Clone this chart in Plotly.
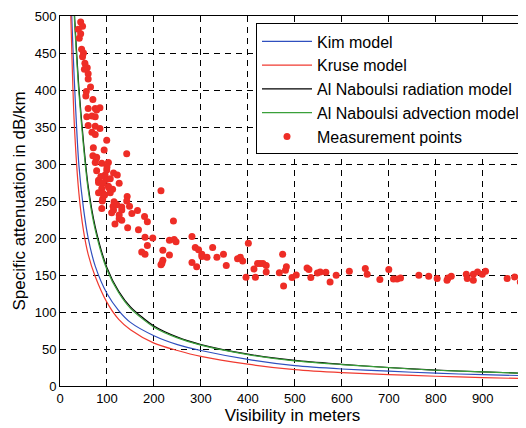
import plotly.graph_objects as go

# Visibility grid (m) used for reading the model curves off the picture
vis_kim = [22, 25, 30, 40, 50, 60, 75, 100, 125, 150, 200, 250, 300, 400, 500, 600, 700, 800, 900, 990]
att_kim = [570, 500, 420, 300, 240, 200, 162, 125, 102, 86, 68, 56, 48, 36, 27.5, 23, 20, 17.3, 15.3, 14]

vis_kruse = [20, 23, 30, 40, 50, 60, 75, 100, 125, 150, 200, 250, 300, 400, 500, 600, 700, 800, 900, 990]
att_kruse = [570, 500, 360, 262, 210, 178, 148, 113, 90, 76, 58, 48, 40, 29.5, 22, 18, 15.5, 13.2, 11.4, 10]

vis_nab = [29, 31, 35, 40, 50, 60, 75, 100, 125, 150, 200, 250, 300, 400, 500, 600, 700, 800, 900, 990]
att_rad = [535, 500, 455, 405, 330, 270, 215, 160, 128, 107, 81, 66, 56, 43, 34.5, 29.3, 25, 21.5, 19.2, 17.2]
att_adv = [525, 492, 448, 398, 324, 265, 211, 157, 126, 105, 79.5, 65, 55.2, 42.5, 34, 29, 24.8, 21.3, 19, 17]

# Measurement points (visibility m, attenuation dB/km)
meas_v = [44, 39, 48, 44, 50, 48, 53, 58, 60, 60, 65, 55, 70, 60, 75, 85, 78, 57, 68, 75,
          60, 75, 85, 68, 75, 99.5, 71, 94, 142, 70, 78, 41, 46, 52, 56,
          77, 75, 89, 103, 78, 99.5, 114, 122, 96, 82, 98, 107, 82, 91, 126,
          103, 89, 112, 82, 92, 107, 143, 215, 91, 142, 115, 148, 131.5, 114, 89,
          131.5, 165, 110, 153, 126, 180, 126, 131.5, 186, 241.5, 117, 144, 167, 181, 197.5,
          233, 243, 247, 281, 186, 219, 288, 295, 325, 174, 181, 233, 302, 302, 313,
          334, 348, 219, 217, 215, 281, 291, 354, 90, 113, 121, 100, 87, 104, 95,
          378, 384, 389, 401, 396, 413, 416, 420.5, 426, 432, 439, 439, 467, 474, 476,
          480, 482, 494, 503, 526, 530, 534, 548, 554, 566, 575, 588, 616,
          650, 654, 681, 700, 710, 717.6, 725, 764, 785, 803, 824, 826, 833,
          865, 867, 880, 880, 889, 899, 906, 952, 968, 980]
meas_a = [492, 482, 486, 476, 450, 445, 436, 430, 422, 415, 404, 392, 387, 375, 375, 376, 373, 364, 365, 364,
          352, 351, 348, 343, 340, 332, 322, 319, 314, 311, 309, 470, 455, 428, 398,
          307, 302, 301, 302, 291, 292, 288, 285, 285, 278, 279, 280, 275, 274, 274,
          270, 267, 266, 261, 260, 261, 256, 264, 253, 250, 249, 243, 242, 238, 240,
          238, 237, 234, 233, 231, 229, 226, 224, 222, 223, 219, 214, 211, 201, 200,
          197, 198, 195, 202, 190, 183.5, 187, 184, 187, 181, 178, 177, 178, 175, 174,
          174, 178, 170, 166, 164, 167, 161, 163, 250, 243, 245, 296, 283, 268, 258,
          172, 174, 169, 193, 147, 158, 147, 165.5, 165.5, 165.5, 163, 154, 153, 178, 135,
          156.5, 161, 146.6, 150, 159.6, 157.4, 146.6, 152.8, 154, 153.8, 140.7, 149.7, 155,
          158.8, 151, 143.9, 157.4, 144.7, 144.7, 146, 149.7, 148.4, 145.2, 143, 146, 148.4,
          151, 145.2, 151, 143, 154, 151, 155, 145.2, 147.4, 140.7]

x_ticks = [0, 100, 200, 300, 400, 500, 600, 700, 800, 900]
y_ticks = [0, 50, 100, 150, 200, 250, 300, 350, 400, 450, 500]

FONT = "Liberation Sans, Arial, sans-serif"

fig = go.Figure()
fig.add_trace(go.Scatter(x=vis_kim, y=att_kim, mode="lines", name="Kim model",
                         line=dict(color="#2f4fbf", width=1.2, shape="spline", smoothing=0.8)))
fig.add_trace(go.Scatter(x=vis_kruse, y=att_kruse, mode="lines", name="Kruse model",
                         line=dict(color="#f03a30", width=1.2, shape="spline", smoothing=0.8)))
fig.add_trace(go.Scatter(x=vis_nab, y=att_rad, mode="lines", name="Al Naboulsi radiation model",
                         line=dict(color="#000000", width=1.2, shape="spline", smoothing=0.8)))
fig.add_trace(go.Scatter(x=vis_nab, y=att_adv, mode="lines", name="Al Naboulsi advection model",
                         line=dict(color="#3aa03a", width=1.2, shape="spline", smoothing=0.8)))
fig.add_trace(go.Scatter(x=meas_v, y=meas_a, mode="markers", name="Measurement points",
                         marker=dict(color="#ee2d26", size=7, line=dict(width=0))))

axis_common = dict(
    showline=True, linecolor="black", linewidth=1, mirror="ticks",
    ticks="inside", ticklen=5, tickcolor="black",
    showgrid=True, gridcolor="black", gridwidth=1, griddash="6px,5px",
    zeroline=False, automargin=False,
    tickfont=dict(family=FONT, size=13, color="black"),
)

fig.update_xaxes(range=[0, 990], tickvals=x_ticks,
                 title=dict(text="Visibility in meters", font=dict(family=FONT, size=17, color="black"), standoff=2),
                 **axis_common)
fig.update_yaxes(range=[0, 500], tickvals=y_ticks,
                 title=dict(text="Specific attenuation in dB/km", font=dict(family=FONT, size=17, color="black"), standoff=4),
                 **axis_common)

# The page body has an 8px margin, so the figure is sized to fit the 526x428 window
fig.update_layout(
    width=518, height=420,
    margin=dict(l=52, r=1, t=8, b=42),
    paper_bgcolor="white", plot_bgcolor="white",
    font=dict(family=FONT, size=16, color="black"),
    legend=dict(x=1.0, y=0.98, xanchor="right", yanchor="top",
                bgcolor="white", bordercolor="black", borderwidth=1,
                font=dict(family=FONT, size=16, color="black"),
                tracegroupgap=0, itemwidth=50),
    showlegend=True,
)

fig.write_html("out.html")
